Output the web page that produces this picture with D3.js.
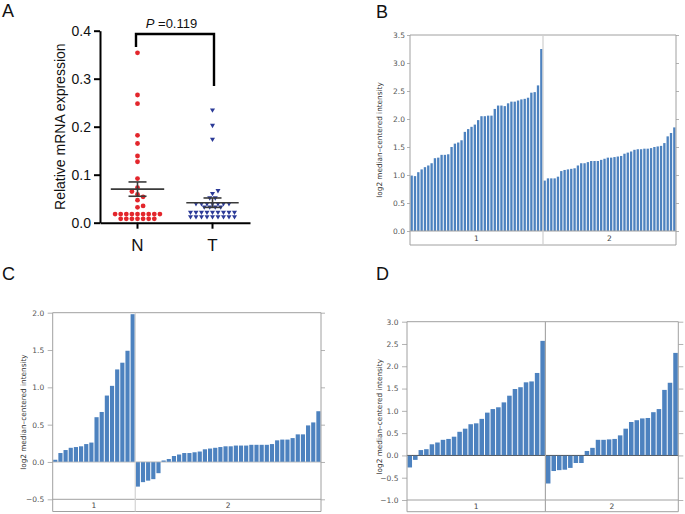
<!DOCTYPE html>
<html>
<head>
<meta charset="utf-8">
<script src="https://cdn.jsdelivr.net/npm/d3@7"></script>
<style>
  body { margin: 0; background: #fff; }
  svg { display: block; font-family: "Liberation Sans", Arial, sans-serif; }
</style>
</head>
<body>
<svg id="chart" width="685" height="514"></svg>
<script>
// ---------------- Panel A data ----------------
const groupNames = ["N", "T"];
const nValues = [0.354, 0.266, 0.248, 0.182, 0.165, 0.139, 0.127,
  0.092, 0.073, 0.065, 0.059, 0.054, 0.047, 0.035, 0.032,
  0.018, 0.018, 0.018, 0.018, 0.018, 0.018, 0.018, 0.018, 0.018,
  0.008, 0.008, 0.008, 0.008, 0.008, 0.008, 0.008];
const tValues = [0.235, 0.203, 0.174,
  0.067, 0.061, 0.052, 0.052,
  0.040, 0.040, 0.040, 0.040, 0.040, 0.040, 0.040,
  0.033, 0.033, 0.033, 0.033,
  0.022, 0.022, 0.022, 0.022, 0.022, 0.022, 0.022, 0.022, 0.022,
  0.0125, 0.0125, 0.0125, 0.0125, 0.0125, 0.0125, 0.0125, 0.0125, 0.0125];
const meanValues = [0.070, 0.0417];
const semValues = [0.0149, 0.0098];
const yTicksA = [0, 0.1, 0.2, 0.3, 0.4];
const pLabel = "0.119";

// ---------------- Panels B, C, D data ----------------
const stripLabels = ["1", "2"];
const bGroup1 = [0.99, 0.98, 1.05, 1.10, 1.14, 1.17, 1.21, 1.30, 1.31, 1.36, 1.36, 1.37, 1.50, 1.56, 1.58, 1.62,
  1.77, 1.82, 1.86, 1.90, 1.98, 2.05, 2.05, 2.06, 2.06, 2.18, 2.24, 2.24, 2.23, 2.28, 2.31, 2.31, 2.33, 2.35,
  2.36, 2.38, 2.47, 2.48, 2.60, 3.25];
const bGroup2 = [0.90, 0.94, 0.94, 0.94, 0.97, 1.07, 1.09, 1.10, 1.11, 1.12, 1.17, 1.21, 1.21, 1.23, 1.25, 1.25,
  1.25, 1.27, 1.29, 1.31, 1.31, 1.32, 1.33, 1.34, 1.38, 1.40, 1.42, 1.45, 1.46, 1.46, 1.47, 1.47, 1.48, 1.50,
  1.51, 1.52, 1.57, 1.69, 1.75, 1.85];
const bTicks = [0, 0.5, 1.0, 1.5, 2.0, 2.5, 3.0, 3.5];

const cGroup1 = [0.03, 0.12, 0.16, 0.19, 0.20, 0.21, 0.24, 0.26, 0.60, 0.67, 0.89, 1.02, 1.24, 1.33, 1.49, 1.98];
const cGroup2 = [-0.33, -0.27, -0.25, -0.23, -0.15, 0.02, 0.04, 0.08, 0.10, 0.12, 0.12, 0.13, 0.14, 0.17, 0.18,
  0.19, 0.20, 0.21, 0.21, 0.22, 0.22, 0.22, 0.23, 0.23, 0.23, 0.23, 0.24, 0.29, 0.30, 0.30, 0.32, 0.37, 0.37,
  0.49, 0.53, 0.68];
const cTicks = [-0.5, 0, 0.5, 1.0, 1.5, 2.0];

const dGroup1 = [-0.27, -0.10, 0.12, 0.14, 0.25, 0.29, 0.35, 0.37, 0.42, 0.53, 0.60, 0.70, 0.72, 0.82, 0.96,
  1.04, 1.08, 1.19, 1.34, 1.49, 1.53, 1.64, 1.66, 1.85, 2.57];
const dGroup2 = [-0.63, -0.35, -0.33, -0.32, -0.28, -0.17, -0.17, 0.10, 0.17, 0.35, 0.35, 0.36, 0.37, 0.45,
  0.60, 0.75, 0.79, 0.83, 0.84, 0.97, 1.04, 1.47, 1.63, 2.30];
const dTicks = [-1.0, -0.5, 0, 0.5, 1.0, 1.5, 2.0, 2.5, 3.0];

const yTitle = "log2 median\u2013centered intensity";

// ---------------- Drawing ----------------
const svg = d3.select("#chart");
svg.append("rect").attr("width", 685).attr("height", 514).attr("fill", "#fff");

// panel letters
const letters = [["A", 2, 17], ["B", 376, 18], ["C", 2, 280], ["D", 376, 280]];
svg.selectAll("text.letter").data(letters).join("text")
  .attr("class", "letter")
  .attr("x", d => d[1]).attr("y", d => d[2])
  .attr("font-size", 18).attr("fill", "#111")
  .text(d => d[0]);

// ---------- Panel A ----------
(function panelA() {
  const g = svg.append("g");
  const y = d3.scaleLinear().domain([0, 0.4]).range([222.7, 30.7]);
  const x = d3.scaleBand().domain(groupNames).range([100, 250]);
  const cx = name => x(name) + x.bandwidth() / 2;

  const yAxis = g.append("g").attr("transform", "translate(100,0)")
    .call(d3.axisLeft(y).tickValues(yTicksA).tickFormat(d3.format(".1f")).tickSize(6).tickSizeOuter(0).tickPadding(3));
  yAxis.selectAll("path,line").attr("stroke", "#000").attr("stroke-width", 2);
  yAxis.selectAll("text").attr("font-size", 14).attr("fill", "#111")
    .attr("font-family", "Liberation Sans, Arial, sans-serif");

  const xAxis = g.append("g").attr("transform", "translate(0,222.7)")
    .call(d3.axisBottom(x).tickSize(6).tickSizeOuter(0).tickPadding(10));
  xAxis.selectAll("path,line").attr("stroke", "#000").attr("stroke-width", 2);
  xAxis.selectAll("text").attr("font-size", 17).attr("fill", "#111")
    .attr("font-family", "Liberation Sans, Arial, sans-serif");

  g.append("text")
    .attr("transform", "translate(65,126.7) rotate(-90)")
    .attr("text-anchor", "middle").attr("font-size", 14).attr("fill", "#111")
    .text("Relative mRNA expression");

  // scatter layout: equal values form centred rows; single values are swarmed
  function layout(vals, center, s) {
    const groups = d3.groups(vals, v => v);
    const out = [];
    const singles = [];
    groups.forEach(([v, arr]) => {
      if (arr.length > 1) {
        arr.forEach((_, i) => out.push({ v, y: y(v), x: center + (i - (arr.length - 1) / 2) * s }));
      } else {
        singles.push({ v, y: y(v) });
      }
    });
    singles.sort((a, b) => b.y - a.y);
    const placed = [];
    for (const p of singles) {
      for (let k = 0; k < 100; k++) {
        const off = k === 0 ? 0 : (k % 2 ? 1 : -1) * Math.ceil(k / 2) * s;
        const px = center + off;
        const ok = placed.every(q => {
          const dy = Math.abs(q.y - p.y);
          if (dy >= s) return true;
          return Math.abs(q.x - px) >= Math.sqrt(s * s - dy * dy) - 0.01;
        });
        if (ok) { p.x = px; break; }
      }
      placed.push(p);
      out.push(p);
    }
    return out;
  }

  const nPts = layout(nValues, cx("N"), 5.6);
  g.selectAll("circle.n").data(nPts).join("circle")
    .attr("cx", d => d.x).attr("cy", d => d.y).attr("r", 2.4)
    .attr("fill", "#e3262c");

  const tPts = layout(tValues, cx("T"), 5.5);
  const tri = d3.symbol().type(d3.symbolTriangle).size(11);
  g.selectAll("path.t").data(tPts).join("path")
    .attr("transform", d => `translate(${d.x},${d.y}) rotate(180)`)
    .attr("d", tri).attr("fill", "#2b3a97");

  // mean and SEM
  const half = [26.7, 26.2];
  groupNames.forEach((name, i) => {
    const c = cx(name);
    const m = meanValues[i], s = semValues[i];
    const col = "#3a3a3a";
    g.append("line").attr("x1", c - half[i]).attr("x2", c + half[i])
      .attr("y1", y(m)).attr("y2", y(m)).attr("stroke", col).attr("stroke-width", 1.6);
    g.append("line").attr("x1", c).attr("x2", c)
      .attr("y1", y(m + s)).attr("y2", y(m - s)).attr("stroke", col).attr("stroke-width", 1.6);
    [m + s, m - s].forEach(v => {
      g.append("line").attr("x1", c - 9).attr("x2", c + 9)
        .attr("y1", y(v)).attr("y2", y(v)).attr("stroke", col).attr("stroke-width", 1.6);
    });
  });

  // significance bracket
  const bTop = 0.393, bLeft = 0.366, bRight = 0.285;
  g.append("path")
    .attr("d", `M${cx("N") - 1.5},${y(bLeft)} V${y(bTop)} H${cx("T") + 1.5} V${y(bRight)}`)
    .attr("fill", "none").attr("stroke", "#000").attr("stroke-width", 2.4);
  const pt = g.append("text").attr("x", 171.5).attr("y", 27.5)
    .attr("text-anchor", "middle").attr("font-size", 13).attr("fill", "#111");
  pt.append("tspan").attr("font-style", "italic").text("P");
  pt.append("tspan").text(" =" + pLabel);
})();

// ---------- Bar panels ----------
function barPanel(o) {
  const g = svg.append("g");
  const vals = o.g1.concat(o.g2);
  const x = d3.scaleBand().domain(d3.range(vals.length)).range([o.x0, o.x1]).paddingInner(0);
  const y = d3.scaleLinear().domain(o.domain).range([o.yBottom, o.yTop]);
  const stripTop = y(o.domain[0]);
  const frame = "#a0a0a0";

  if (o.domain[0] < 0) {
    g.append("line").attr("x1", o.x0).attr("x2", o.x1)
      .attr("y1", y(0)).attr("y2", y(0)).attr("stroke", o.zeroColor).attr("stroke-width", 1);
  }

  g.selectAll("rect.bar").data(vals).join("rect")
    .attr("class", "bar")
    .attr("x", (d, i) => x(i) + 0.5)
    .attr("width", Math.max(0.5, x.bandwidth() - 1))
    .attr("y", d => y(Math.max(0, d)))
    .attr("height", d => Math.abs(y(d) - y(0)))
    .attr("fill", "#4d82bf");

  if (o.domain[0] < 0) {
    g.append("line").attr("x1", o.x0).attr("x2", o.x1)
      .attr("y1", y(0)).attr("y2", y(0)).attr("stroke", o.zeroColor).attr("stroke-width", 0.8)
      .attr("opacity", 0.7);
  }

  const left = g.append("g").attr("transform", `translate(${o.x0},0)`)
    .call(d3.axisLeft(y).tickValues(o.ticks).tickFormat(d3.format(".1f")).tickSize(o.tick).tickSizeOuter(0).tickPadding(o.pad));
  left.select(".domain").remove();
  left.selectAll("line").attr("stroke", frame).attr("stroke-width", 0.8);
  left.selectAll("text").attr("font-size", 7.5).attr("fill", "#555")
    .attr("font-family", "DejaVu Sans, sans-serif");

  const right = g.append("g").attr("transform", `translate(${o.x1},0)`)
    .call(d3.axisRight(y).tickValues(o.ticks).tickFormat("").tickSize(o.rtick).tickSizeOuter(0));
  right.select(".domain").remove();
  right.selectAll("line").attr("stroke", frame).attr("stroke-width", 0.8);

  const lines = [
    [o.x0, o.yTop, o.x1, o.yTop],
    [o.x0, o.yTop, o.x0, o.stripBottom],
    [o.x1, o.yTop, o.x1, o.stripBottom],
    [o.x0, stripTop, o.x1, stripTop],
    [o.x0, o.stripBottom, o.x1, o.stripBottom]
  ];
  g.selectAll("line.frame").data(lines).join("line")
    .attr("x1", d => d[0]).attr("y1", d => d[1]).attr("x2", d => d[2]).attr("y2", d => d[3])
    .attr("stroke", frame).attr("stroke-width", 1);

  const xd = x(o.g1.length);
  g.append("line").attr("x1", xd).attr("x2", xd).attr("y1", o.yTop).attr("y2", o.stripBottom)
    .attr("stroke", o.dividerColor).attr("stroke-width", 1.2);

  const centers = [(o.x0 + xd) / 2, (xd + o.x1) / 2];
  g.selectAll("text.strip").data(stripLabels).join("text")
    .attr("x", (d, i) => centers[i]).attr("y", (stripTop + o.stripBottom) / 2 + 2.8)
    .attr("text-anchor", "middle").attr("font-size", 7.5).attr("fill", "#444")
    .attr("font-family", "DejaVu Sans, sans-serif")
    .text(d => d);

  g.append("text")
    .attr("transform", `translate(${o.titleX},${(o.yTop + o.stripBottom) / 2}) rotate(-90)`)
    .attr("text-anchor", "middle").attr("font-size", 7.3).attr("fill", "#333")
    .attr("font-family", "DejaVu Sans, sans-serif")
    .text(yTitle);
}

barPanel({ g1: bGroup1, g2: bGroup2, x0: 410, x1: 676, yTop: 35, yBottom: 231, domain: [0, 3.5],
  ticks: bTicks, stripBottom: 245, tick: 3, rtick: 3, pad: 2, titleX: 382, dividerColor: "#cfcfcf", zeroColor: "#888" });
barPanel({ g1: cGroup1, g2: cGroup2, x0: 52.7, x1: 321, yTop: 312.7, yBottom: 499.3, domain: [-0.5, 2.0],
  ticks: cTicks, stripBottom: 511.5, tick: 5, rtick: 4, pad: 3.5, titleX: 26, dividerColor: "#d3d3d3", zeroColor: "#c8c8c8" });
barPanel({ g1: dGroup1, g2: dGroup2, x0: 407, x1: 678.3, yTop: 321.7, yBottom: 500, domain: [-1.0, 3.0],
  ticks: dTicks, stripBottom: 511.7, tick: 5, rtick: 5, pad: 3.5, titleX: 381.5, dividerColor: "#a8a8a8", zeroColor: "#555" });
</script>
</body>
</html>
